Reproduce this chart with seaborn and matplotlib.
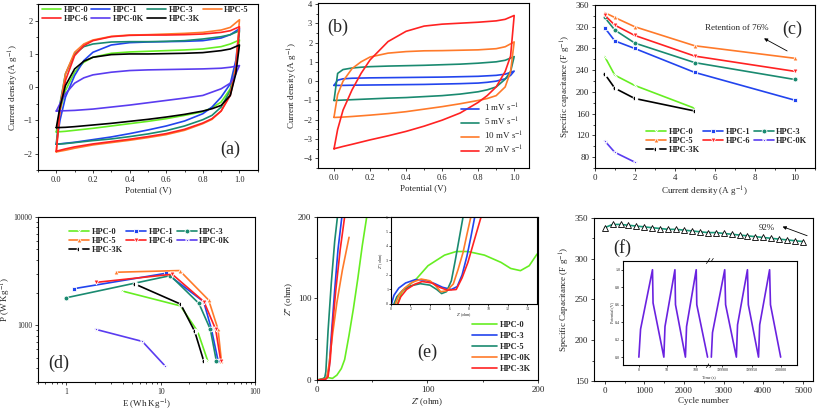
import numpy as np
import pandas as pd
import matplotlib
matplotlib.use("Agg")
import matplotlib.pyplot as plt
import seaborn as sns

# ---------------- data ----------------
# (a) CV curves of the samples: upper branch on cv_up_x, lower branch back on cv_down_x
cv_up_x = [0, 0.02, 0.05, 0.1, 0.15, 0.2, 0.3, 0.4, 0.5, 0.6, 0.7, 0.8, 0.9, 0.95, 1.0]
cv_down_x = [1.0, 0.98, 0.95, 0.9, 0.85, 0.8, 0.7, 0.6, 0.5, 0.4, 0.3, 0.2, 0.1, 0.05, 0.0]

hpc0_up = [-1.35, -0.7, -0.1, 0.45, 0.75, 0.9, 1.02, 1.06, 1.08, 1.1, 1.12, 1.15, 1.22, 1.3, 1.42]
hpc0_down = [1.42, 0.6, -0.05, -0.45, -0.62, -0.74, -0.85, -0.95, -1.03, -1.1, -1.17, -1.24, -1.3, -1.33, -1.35]
hpc1_up = [-1.72, -1.0, -0.3, 0.35, 0.8, 1.05, 1.27, 1.34, 1.36, 1.37, 1.38, 1.4, 1.48, 1.58, 1.76]
hpc1_down = [1.76, 0.8, 0.1, -0.3, -0.6, -0.8, -1.02, -1.17, -1.29, -1.4, -1.5, -1.58, -1.66, -1.69, -1.72]
hpc3_up = [-1.72, -0.5, 0.4, 1.0, 1.22, 1.3, 1.36, 1.37, 1.37, 1.38, 1.4, 1.45, 1.52, 1.58, 1.7]
hpc3_down = [1.7, 0.6, -0.1, -0.6, -0.85, -0.98, -1.17, -1.31, -1.41, -1.49, -1.56, -1.61, -1.67, -1.7, -1.72]
hpc5_up = [-1.95, -0.6, 0.4, 1.05, 1.3, 1.42, 1.53, 1.57, 1.58, 1.6, 1.62, 1.65, 1.72, 1.8, 2.03]
hpc5_down = [2.03, 0.6, -0.2, -0.72, -0.97, -1.1, -1.3, -1.43, -1.52, -1.6, -1.67, -1.74, -1.84, -1.9, -1.95]
hpc6_up = [-1.93, -0.7, 0.2, 0.95, 1.25, 1.4, 1.52, 1.56, 1.57, 1.57, 1.58, 1.6, 1.65, 1.7, 1.82]
hpc6_down = [1.82, 0.5, -0.25, -0.72, -0.95, -1.08, -1.27, -1.4, -1.49, -1.57, -1.64, -1.71, -1.8, -1.86, -1.93]
hpc0k_up = [-0.72, -0.5, -0.2, 0.12, 0.28, 0.37, 0.45, 0.5, 0.52, 0.53, 0.54, 0.55, 0.57, 0.6, 0.65]
hpc0k_down = [0.65, 0.4, 0.12, -0.05, -0.15, -0.25, -0.33, -0.4, -0.47, -0.54, -0.6, -0.66, -0.7, -0.71, -0.72]
hpc3k_up = [-1.22, -0.6, 0.05, 0.55, 0.78, 0.9, 0.98, 1.0, 1.0, 1.01, 1.02, 1.04, 1.1, 1.15, 1.27]
hpc3k_down = [1.27, 0.4, -0.25, -0.55, -0.65, -0.72, -0.82, -0.9, -0.97, -1.03, -1.09, -1.14, -1.19, -1.21, -1.22]

# (b) CV of HPC-5 at different scan rates
rate_labels = ["1 mV s$^{-1}$", "5 mV s$^{-1}$", "10 mV s$^{-1}$", "20 mV s$^{-1}$"]
r1_up = [-0.22, 0.05, 0.12, 0.15, 0.16, 0.17, 0.18, 0.19, 0.2, 0.21, 0.23, 0.25, 0.3, 0.36, 0.52]
r1_down = [0.52, 0.3, 0.12, 0.0, -0.06, -0.1, -0.13, -0.15, -0.17, -0.18, -0.19, -0.2, -0.21, -0.22, -0.22]
r5_up = [-1.0, 0.4, 0.6, 0.68, 0.72, 0.75, 0.78, 0.8, 0.82, 0.85, 0.88, 0.93, 1.0, 1.08, 1.27]
r5_down = [1.27, 0.5, 0.1, -0.3, -0.45, -0.55, -0.67, -0.75, -0.8, -0.85, -0.88, -0.92, -0.96, -0.98, -1.0]
r10_up = [-1.86, -0.7, 0.0, 0.65, 1.0, 1.25, 1.45, 1.53, 1.57, 1.58, 1.6, 1.62, 1.68, 1.78, 2.03]
r10_down = [2.03, 0.5, -0.3, -0.75, -0.9, -1.0, -1.17, -1.32, -1.45, -1.58, -1.68, -1.76, -1.83, -1.86, -1.88]
r20_up = [-3.5, -2.5, -1.5, -0.45, 0.4, 1.1, 2.05, 2.58, 2.85, 2.95, 3.0, 3.05, 3.12, 3.2, 3.4]
r20_down = [3.4, 1.3, 0.5, -0.3, -0.75, -1.1, -1.65, -2.02, -2.33, -2.6, -2.83, -3.04, -3.27, -3.38, -3.5]

# (c) rate capability
cur_density = [0.5, 1, 2, 5, 10]
cap_hpc0 = [265, 231, 212, 170]
cap_hpc1 = [318, 294, 280, 236, 185]
cap_hpc3 = [337, 314, 290, 254, 223]
cap_hpc5 = [346, 337, 320, 285, 262]
cap_hpc6 = [341, 323, 304, 266, 238]
cap_hpc0k = [110, 89, 71]
cap_hpc3k = [233, 207, 188, 165]

# (d) Ragone plot
e_hpc0 = [3.9, 16.1, 24.5, 31.5]
p_hpc0 = [2070, 1510, 880, 464]
e_hpc1 = [1.2, 11.4, 28.4, 34.2, 40.3]
p_hpc1 = [2175, 3020, 1650, 931, 473]
e_hpc3 = [1.0, 12.6, 25.3, 33.4, 38.6]
p_hpc3 = [1795, 2872, 1590, 918, 473]
e_hpc5 = [3.38, 15.8, 32.1, 40.3, 43.7]
p_hpc5 = [3085, 3197, 1706, 918, 473]
e_hpc6 = [2.08, 13.2, 28.6, 38.0, 43.0]
p_hpc6 = [2490, 2955, 1650, 918, 473]
e_hpc0k = [2.04, 6.37, 11.0]
p_hpc0k = [918, 710, 425]
e_hpc3k = [5.3, 16.2, 22.8, 28.4]
p_hpc3k = [2403, 1567, 880, 470]

# (e) Nyquist plots (main) and high-frequency region (inset)
zr_hpc0 = [0, 6, 10, 14, 18, 22, 25, 29, 33, 37, 41, 45]
zi_hpc0 = [0, 2, 3, 2, 6, 14, 25, 55, 88, 125, 165, 200]
zr_hpc3 = [0, 7, 9, 11, 13, 16, 19, 22.5]
zi_hpc3 = [0, 1, 3, 15, 55, 110, 160, 200]
zr_hpc5 = [0, 5, 7, 8, 10, 13, 16, 18.5]
zi_hpc5 = [0, 1, 3, 10, 60, 120, 170, 200]
zr_hpc0k = [0, 7, 9, 11, 14, 18, 23, 29]
zi_hpc0k = [0, 1, 4, 20, 55, 95, 135, 175]
zr_hpc3k = [0, 8, 10, 12, 14, 17, 21, 25]
zi_hpc3k = [0, 1, 4, 25, 65, 110, 160, 200]

ins_zr_hpc0 = [0.65, 1.1, 1.8, 2.5, 3.8, 5.5, 6.7, 7.9, 9.6, 11.3, 12.3, 13.3, 14.2, 15.0]
ins_zi_hpc0 = [0, 0.8, 1.3, 1.65, 2.64, 3.37, 3.62, 3.62, 3.37, 2.87, 2.45, 2.3, 2.64, 3.44]
ins_zr_hpc3 = [0.05, 0.3, 0.8, 1.5, 2.5, 3.5, 4.5, 5.3, 6.2, 6.8, 7.3, 7.8, 8.2, 8.6]
ins_zi_hpc3 = [0, 0.6, 1.1, 1.45, 1.68, 1.65, 1.4, 1.15, 1.0, 1.2, 2.0, 3.3, 4.6, 6.0]
ins_zr_hpc5 = [0.3, 0.6, 1.2, 2.0, 3.0, 4.0, 4.7, 5.2, 5.7, 6.2, 6.6, 7.0, 7.4]
ins_zi_hpc5 = [0, 0.5, 0.95, 1.25, 1.4, 1.3, 1.0, 0.72, 0.85, 1.6, 3.0, 4.5, 6.0]
ins_zr_hpc0k = [0.45, 0.8, 1.4, 2.2, 3.1, 4.0, 4.6, 5.1, 5.7, 6.4, 6.9, 7.4, 7.8, 8.2]
ins_zi_hpc0k = [0, 0.6, 1.1, 1.5, 1.72, 1.6, 1.25, 0.85, 0.9, 1.38, 2.4, 3.55, 4.8, 6.0]
ins_zr_hpc3k = [0.7, 1.0, 1.6, 2.4, 3.2, 4.2, 5.0, 5.8, 6.7, 7.3, 7.9, 8.6, 9.25]
ins_zi_hpc3k = [0, 0.5, 1.0, 1.35, 1.55, 1.45, 1.15, 0.95, 1.0, 1.8, 2.87, 4.5, 6.0]

# (f) cycling stability and GCD inset
cycles = [0, 200, 400, 600, 800, 1000, 1200, 1400, 1600, 1800, 2000, 2200, 2400,
          2600, 2800, 3000, 3200, 3400, 3600, 3800, 4000, 4200, 4400, 4600, 4800, 5000]
cap_cycle = [338, 342, 342, 341, 340, 339, 338, 337, 336, 336, 335, 334, 333,
             332, 332, 331, 330, 329, 328, 327, 326, 325, 324, 323, 322, 321]
gcd_t_start = [0, 3, 24, 25, 44, 46, 63.5, 64.5, 82, 84, 101, 102, 121]
gcd_v_start = [0.0, 0.32, 1.0, 0.62, 0.0, 0.35, 1.0, 0.6, 0.0, 0.35, 1.0, 0.6, 0.0]
gcd_t_end = [199881, 199883, 199904, 199905.5, 199924, 199926, 199943, 199944.5,
             199962, 199964, 199981, 199982.5, 200000]
gcd_v_end = [0.0, 0.28, 1.0, 0.6, 0.0, 0.37, 1.0, 0.6, 0.0, 0.37, 1.0, 0.6, 0.0]

# ---------------- style ----------------
sns.set_style("ticks")
plt.rcParams['font.family'] = ['Liberation Serif', 'DejaVu Serif']
plt.rcParams['mathtext.fontset'] = 'stix'
plt.rcParams['xtick.labelsize'] = 6
plt.rcParams['ytick.labelsize'] = 6
plt.rcParams['axes.labelsize'] = 6.5
plt.rcParams['axes.linewidth'] = 0.8
plt.rcParams['xtick.major.size'] = 2.5
plt.rcParams['ytick.major.size'] = 2.5
plt.rcParams['xtick.minor.size'] = 1.3
plt.rcParams['ytick.minor.size'] = 1.3
plt.rcParams['xtick.major.width'] = 0.6
plt.rcParams['ytick.major.width'] = 0.6
plt.rcParams['xtick.major.pad'] = 1.5
plt.rcParams['ytick.major.pad'] = 1.5
plt.rcParams['axes.labelpad'] = 2

colors = {
    'HPC-0': '#66ee22', 'HPC-1': '#2244ee', 'HPC-3': '#1a8a70', 'HPC-5': '#ff7a2a',
    'HPC-6': '#ff2222', 'HPC-0K': '#5a3cf0', 'HPC-3K': '#000000',
}
LW = 1.2
leg_font = dict(size=6, weight='bold')


def loop(ax, up, down, color, xs_up=cv_up_x, xs_down=cv_down_x):
    sns.lineplot(x=xs_up + xs_down, y=up + down, sort=False, estimator=None,
                 color=color, lw=LW, ax=ax, legend=False)
    return ax.lines[-1]


def line(ax, x, y, color, **kw):
    sns.lineplot(x=x, y=y, sort=False, estimator=None, color=color, lw=LW,
                 ax=ax, legend=False, **kw)
    return ax.lines[-1]


def frame(ax):
    for s in ax.spines.values():
        s.set_visible(True)
        s.set_color('black')


fig = plt.figure(figsize=(8.17, 4.15), dpi=100)

# ---------------- (a) ----------------
ax = fig.add_axes([0.0465, 0.590, 0.269, 0.400])
h = {}
h['HPC-0'] = loop(ax, hpc0_up, hpc0_down, colors['HPC-0'])
h['HPC-1'] = loop(ax, hpc1_up, hpc1_down, colors['HPC-1'])
h['HPC-3'] = loop(ax, hpc3_up, hpc3_down, colors['HPC-3'])
h['HPC-5'] = loop(ax, hpc5_up, hpc5_down, colors['HPC-5'])
h['HPC-6'] = loop(ax, hpc6_up, hpc6_down, colors['HPC-6'])
h['HPC-0K'] = loop(ax, hpc0k_up, hpc0k_down, colors['HPC-0K'])
h['HPC-3K'] = loop(ax, hpc3k_up, hpc3k_down, colors['HPC-3K'])
ax.set_xlim(-0.1, 1.1)
ax.set_ylim(-2.5, 2.5)
ax.set_xticks([0, 0.2, 0.4, 0.6, 0.8, 1.0])
ax.set_xticklabels(['0.0', '0.2', '0.4', '0.6', '0.8', '1.0'])
ax.set_yticks([-2, -1, 0, 1, 2])
ax.xaxis.set_minor_locator(plt.MultipleLocator(0.1))
ax.yaxis.set_minor_locator(plt.MultipleLocator(0.5))
ax.set_xlabel('Potential (V)')
ax.set_ylabel('Current density (A g$^{-1}$)')
order = ['HPC-0', 'HPC-6', 'HPC-1', 'HPC-0K', 'HPC-3', 'HPC-3K', 'HPC-5']
ax.legend([h[k] for k in order], order, ncol=4, loc='upper left',
          bbox_to_anchor=(-0.005, 1.02), frameon=False, prop=leg_font, borderaxespad=0.2,
          handlelength=2.3, handletextpad=0.3, columnspacing=0.35, labelspacing=0.15)
ax.text(0.875, 0.125, '(a)', transform=ax.transAxes, fontsize=13, ha='center', va='center')
frame(ax)

# ---------------- (b) ----------------
ax = fig.add_axes([0.389, 0.595, 0.258, 0.398])
hb = [loop(ax, r1_up, r1_down, '#2244ee'),
      loop(ax, r5_up, r5_down, '#1a8a70'),
      loop(ax, r10_up, r10_down, '#ff7a2a'),
      loop(ax, r20_up, r20_down, '#ff2222')]
ax.set_xlim(-0.09, 1.08)
ax.set_ylim(-4.5, 4.05)
ax.set_xticks([0, 0.2, 0.4, 0.6, 0.8, 1.0])
ax.set_xticklabels(['0.0', '0.2', '0.4', '0.6', '0.8', '1.0'])
ax.set_yticks([-4, -3, -2, -1, 0, 1, 2, 3, 4])
ax.xaxis.set_minor_locator(plt.MultipleLocator(0.1))
ax.yaxis.set_minor_locator(plt.MultipleLocator(0.5))
ax.set_xlabel('Potential (V)')
ax.set_ylabel('Current density (A g$^{-1}$)')
ax.legend(hb, rate_labels, loc='lower right', bbox_to_anchor=(1.0, 0.04), frameon=False,
          fontsize=6.5, handlelength=2.0, handletextpad=0.5, labelspacing=0.2,
          borderaxespad=0.2)
ax.text(0.095, 0.85, '(b)', transform=ax.transAxes, fontsize=13, ha='center', va='center')
frame(ax)

# ---------------- (c) ----------------
ax = fig.add_axes([0.728, 0.595, 0.269, 0.393])
mk = dict(ms=3.5, markeredgewidth=0.6)
hc = {}
hc['HPC-0'] = line(ax, cur_density[:4], cap_hpc0, colors['HPC-0'], marker='x', **mk)
hc['HPC-1'] = line(ax, cur_density, cap_hpc1, colors['HPC-1'], marker='s', **mk)
hc['HPC-3'] = line(ax, cur_density, cap_hpc3, colors['HPC-3'], marker='o', **mk)
hc['HPC-5'] = line(ax, cur_density, cap_hpc5, colors['HPC-5'], marker='^', **mk)
hc['HPC-6'] = line(ax, cur_density, cap_hpc6, colors['HPC-6'], marker='v', **mk)
hc['HPC-0K'] = line(ax, cur_density[:3], cap_hpc0k, colors['HPC-0K'], marker='*', **mk)
hc['HPC-3K'] = line(ax, cur_density[:4], cap_hpc3k, colors['HPC-3K'], marker='o',
                    fillstyle='left', markerfacecoloralt='white', **mk)
ax.set_xlim(0, 11)
ax.set_ylim(60, 360)
ax.set_xticks([0, 2, 4, 6, 8, 10])
ax.set_yticks([80, 120, 160, 200, 240, 280, 320, 360])
ax.xaxis.set_minor_locator(plt.MultipleLocator(1))
ax.yaxis.set_minor_locator(plt.MultipleLocator(20))
ax.tick_params(labelsize=6.5)
ax.set_xlabel('Current density (A g$^{-1}$)')
ax.set_ylabel('Specific capacitance (F g$^{-1}$)')
order3 = ['HPC-0', 'HPC-5', 'HPC-3K', 'HPC-1', 'HPC-6', 'HPC-3', 'HPC-0K']
ax.legend([hc[k] for k in order3], order3, ncol=3, loc='lower left',
          bbox_to_anchor=(0.2, 0.04), frameon=False, prop=leg_font,
          handlelength=2.4, handletextpad=0.3, columnspacing=0.4, labelspacing=0.15)
ax.annotate('', xy=(8.35, 301), xytext=(9.75, 273),
            arrowprops=dict(arrowstyle='-|>', lw=0.6, color='black', mutation_scale=5))
ax.text(5.5, 318, 'Retention of 76%', fontsize=6.5, va='center', ha='left')
ax.text(0.9, 0.85, '(c)', transform=ax.transAxes, fontsize=13, ha='center', va='center')
frame(ax)

# ---------------- (d) ----------------
ax = fig.add_axes([0.0465, 0.0795, 0.266, 0.398])
ax.set_xscale('log')
ax.set_yscale('log')
hd = {}
hd['HPC-0'] = line(ax, e_hpc0, p_hpc0, colors['HPC-0'], marker='x', **mk)
hd['HPC-1'] = line(ax, e_hpc1, p_hpc1, colors['HPC-1'], marker='s', **mk)
hd['HPC-3'] = line(ax, e_hpc3, p_hpc3, colors['HPC-3'], marker='o', **mk)
hd['HPC-5'] = line(ax, e_hpc5, p_hpc5, colors['HPC-5'], marker='^', **mk)
hd['HPC-6'] = line(ax, e_hpc6, p_hpc6, colors['HPC-6'], marker='v', **mk)
hd['HPC-0K'] = line(ax, e_hpc0k, p_hpc0k, colors['HPC-0K'], marker='*', **mk)
hd['HPC-3K'] = line(ax, e_hpc3k, p_hpc3k, colors['HPC-3K'], marker='o',
                    fillstyle='left', markerfacecoloralt='white', **mk)
ax.set_xlim(0.5, 100)
ax.set_ylim(300, 10000)
ax.set_xticks([1, 10, 100])
ax.set_xticklabels(['1', '10', '100'])
ax.set_yticks([1000, 10000])
ax.set_yticklabels(['1000', '10000'])
ax.tick_params(labelsize=5.5)
ax.set_xlabel('E (Wh Kg$^{-1}$)')
ax.set_ylabel('P (W Kg$^{-1}$)', labelpad=0.5)
ax.legend([hd[k] for k in order3], order3, ncol=3, loc='upper left',
          bbox_to_anchor=(0.11, 0.98), frameon=False, prop=leg_font,
          handlelength=2.4, handletextpad=0.3, columnspacing=0.4, labelspacing=0.15)
ax.text(0.097, 0.115, '(d)', transform=ax.transAxes, fontsize=13, ha='center', va='center')
frame(ax)

# ---------------- (e) ----------------
ax = fig.add_axes([0.388, 0.0843, 0.2705, 0.393])
he = [line(ax, zr_hpc0, zi_hpc0, colors['HPC-0']),
      line(ax, zr_hpc3, zi_hpc3, colors['HPC-1']),
      line(ax, zr_hpc5, zi_hpc5, colors['HPC-3']),
      line(ax, zr_hpc0k, zi_hpc0k, colors['HPC-5']),
      line(ax, zr_hpc3k, zi_hpc3k, colors['HPC-6'])]
ax.set_xlim(0, 200)
ax.set_ylim(0, 200)
ax.set_xticks([0, 100, 200])
ax.set_yticks([0, 100, 200])
ax.xaxis.set_minor_locator(plt.MultipleLocator(50))
ax.yaxis.set_minor_locator(plt.MultipleLocator(50))
ax.tick_params(labelsize=6.5)
ax.set_xlabel("$Z$' (ohm)")
ax.set_ylabel("$Z$'' (ohm)")
ax.legend(he, ['HPC-0', 'HPC-3', 'HPC-5', 'HPC-0K', 'HPC-3K'], loc='lower right',
          bbox_to_anchor=(1.0, 0.0), frameon=False, prop=leg_font,
          handlelength=3.0, handletextpad=0.3, labelspacing=0.35)
ax.text(0.5, 0.17, '(e)', transform=ax.transAxes, fontsize=13, ha='center', va='center')
frame(ax)

ins = fig.add_axes([0.4786, 0.2675, 0.1787, 0.2096])
line(ins, ins_zr_hpc0, ins_zi_hpc0, colors['HPC-0'])
line(ins, ins_zr_hpc3, ins_zi_hpc3, colors['HPC-1'])
line(ins, ins_zr_hpc5, ins_zi_hpc5, colors['HPC-3'])
line(ins, ins_zr_hpc0k, ins_zi_hpc0k, colors['HPC-5'])
line(ins, ins_zr_hpc3k, ins_zi_hpc3k, colors['HPC-6'])
ins.set_xlim(0, 15)
ins.set_ylim(0, 6)
ins.set_xticks([0, 2, 4, 6, 8, 10, 12, 14])
ins.set_yticks([0, 1, 2, 3, 4, 5, 6])
ins.tick_params(labelsize=3, length=1.2, pad=0.8)
ins.set_xlabel("$Z$' (ohm)", fontsize=3, labelpad=0.5)
ins.set_ylabel("$Z$'' (ohm)", fontsize=3, labelpad=0.5)
frame(ins)

# ---------------- (f) ----------------
ax = fig.add_axes([0.727, 0.0819, 0.268, 0.393])
sns.lineplot(x=cycles, y=cap_cycle, sort=False, estimator=None, color='#1a9a7a', lw=1.2,
             marker='^', ms=4, markerfacecolor='white', markeredgecolor='black',
             markeredgewidth=0.6, ax=ax, legend=False)
ax.set_xlim(-270, 5250)
ax.set_ylim(150, 350)
ax.set_xticks([0, 1000, 2000, 3000, 4000, 5000])
ax.set_yticks([150, 200, 250, 300, 350])
ax.xaxis.set_minor_locator(plt.MultipleLocator(500))
ax.yaxis.set_minor_locator(plt.MultipleLocator(25))
ax.tick_params(labelsize=6.5)
ax.set_xlabel('Cycle number')
ax.set_ylabel('Specific Capacitance (F g$^{-1}$)')
ax.annotate('', xy=(4420, 340.5), xytext=(5170, 327),
            arrowprops=dict(arrowstyle='-|>', lw=0.6, color='black', mutation_scale=5))
ax.text(4080, 338, '92%', fontsize=6.5, ha='center', va='center')
ax.text(0.128, 0.816, '(f)', transform=ax.transAxes, fontsize=13, ha='center', va='center')
frame(ax)

gcd_color = '#6a22e0'
ia = fig.add_axes([0.7625, 0.1205, 0.1053, 0.2506])
ib = fig.add_axes([0.8678, 0.1205, 0.1077, 0.2506])
line(ia, gcd_t_start, gcd_v_start, gcd_color)
line(ib, gcd_t_end, gcd_v_end, gcd_color)
ia.set_xlim(-28, 123.5)
ib.set_xlim(199877, 200028)
for a in (ia, ib):
    a.set_ylim(-0.09, 1.1)
    a.tick_params(labelsize=3, length=1.2, pad=0.8)
    frame(a)
ia.set_xticks([0, 50, 100])
ia.set_xticklabels(['0', '50', '100'])
ib.set_xticks([199900, 199950, 200000])
ib.set_xticklabels(['199900', '199950', '200000'])
ia.set_yticks([0.0, 0.2, 0.4, 0.6, 0.8, 1.0])
ia.set_yticklabels(['0.0', '0.2', '0.4', '0.6', '0.8', '1.0'])
ia.spines['right'].set_visible(False)
ib.spines['left'].set_visible(False)
ib.tick_params(axis='y', left=False, labelleft=False)
ia.set_ylabel('Potential (V)', fontsize=3, labelpad=0.5)
ia.set_xlabel('Time (s)', fontsize=3, labelpad=0.5)
ia.xaxis.set_label_coords(1.0, -0.1)
for yy in (0.0, 1.0):
    ia.plot([0.97, 1.01], [yy - 0.025, yy + 0.025], transform=ia.transAxes,
            color='black', lw=0.5, clip_on=False)
    ia.plot([1.01, 1.05], [yy - 0.025, yy + 0.025], transform=ia.transAxes,
            color='black', lw=0.5, clip_on=False)

fig.savefig('out.png', dpi=100)
